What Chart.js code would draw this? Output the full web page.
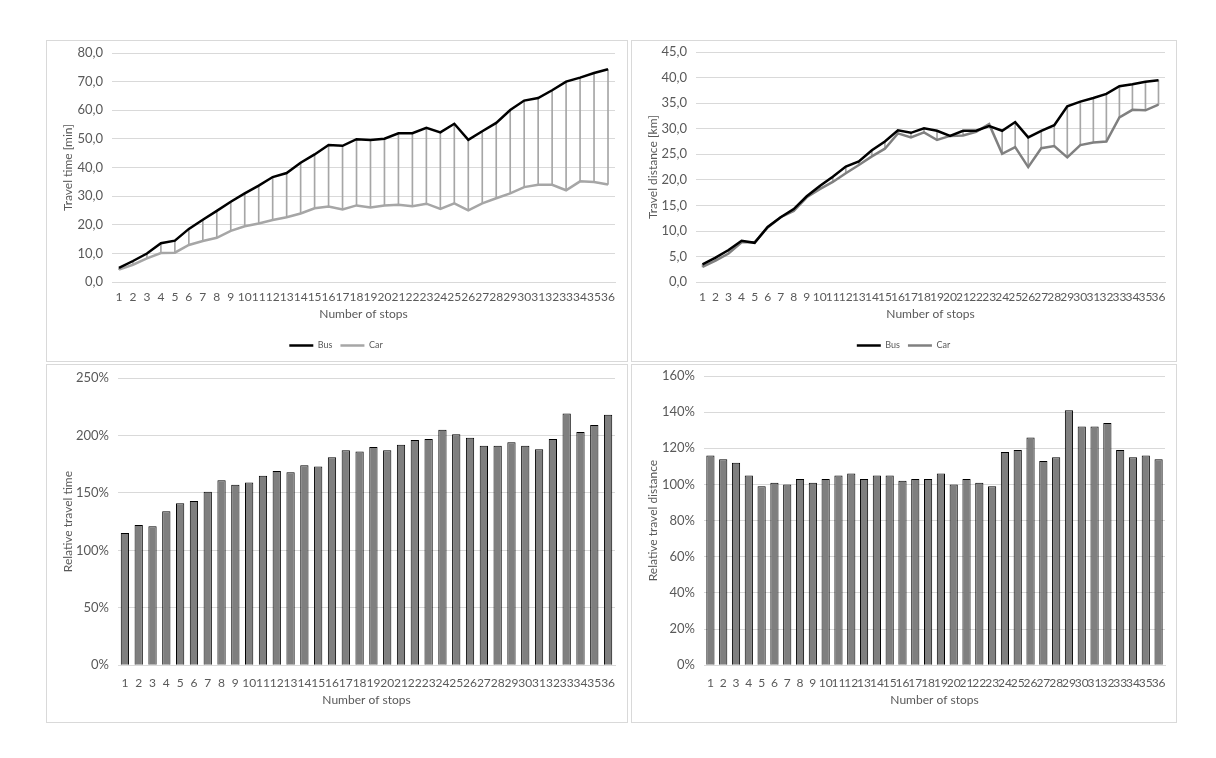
<!DOCTYPE html>
<html>
<head>
<meta charset="utf-8">
<script src="https://cdn.jsdelivr.net/npm/chart.js@4"></script>
<style>
  body { margin: 0; background: #fff; }
  .panel { position: absolute; border: 1px solid #d9d9d9; box-sizing: border-box; background: #fff; }
</style>
</head>
<body>
<div class="panel" style="left:46px;top:40px;width:582px;height:322px"><canvas id="timeChart"></canvas></div>
<div class="panel" style="left:631px;top:40px;width:546px;height:322px"><canvas id="distChart"></canvas></div>
<div class="panel" style="left:46px;top:364px;width:582px;height:359px"><canvas id="relTimeChart"></canvas></div>
<div class="panel" style="left:631px;top:364px;width:546px;height:359px"><canvas id="relDistChart"></canvas></div>
<script>
// --- Data ---
const stops = ['1','2','3','4','5','6','7','8','9','10','11','12','13','14','15','16','17','18',
  '19','20','21','22','23','24','25','26','27','28','29','30','31','32','33','34','35','36'];

const busTime = [5.0, 7.4, 10.0, 13.6, 14.5, 18.6, 21.8, 24.9, 28.1, 31.0, 33.7, 36.7, 38.1, 41.7, 44.6, 47.9, 47.6, 49.9,
  49.6, 50.1, 52.0, 52.0, 53.9, 52.3, 55.3, 49.7, 52.7, 55.6, 60.1, 63.4, 64.3, 67.0, 70.0, 71.4, 73.0, 74.3];
const carTime = [4.4, 6.1, 8.3, 10.2, 10.3, 13.0, 14.4, 15.5, 17.9, 19.5, 20.5, 21.7, 22.7, 24.0, 25.8, 26.4, 25.4, 26.8,
  26.1, 26.8, 27.0, 26.5, 27.4, 25.6, 27.5, 25.1, 27.5, 29.3, 31.0, 33.2, 34.0, 34.0, 32.1, 35.2, 35.0, 34.1];

const busDist = [3.5, 4.8, 6.3, 8.1, 7.7, 10.8, 12.7, 14.3, 16.8, 18.8, 20.6, 22.6, 23.6, 25.8, 27.5, 29.7, 29.2, 30.1,
  29.6, 28.6, 29.6, 29.6, 30.5, 29.6, 31.3, 28.3, 29.6, 30.7, 34.4, 35.3, 36.0, 36.8, 38.3, 38.7, 39.2, 39.5];
const carDist = [3.0, 4.2, 5.6, 7.8, 7.8, 10.7, 12.7, 13.9, 16.6, 18.2, 19.6, 21.3, 22.9, 24.6, 26.1, 29.1, 28.3, 29.3,
  27.8, 28.6, 28.7, 29.4, 30.9, 25.1, 26.4, 22.5, 26.2, 26.6, 24.4, 26.8, 27.3, 27.5, 32.2, 33.7, 33.6, 34.7];

const relTime = [115, 122, 121, 134, 141, 143, 151, 161, 157, 159, 165, 169, 168, 174, 173, 181, 187, 186,
  190, 187, 192, 196, 197, 205, 201, 198, 191, 191, 194, 191, 188, 197, 219, 203, 209, 218];
const relDist = [116, 114, 112, 105, 99, 101, 100, 103, 101, 103, 105, 106, 103, 105, 105, 102, 103, 103,
  106, 100, 103, 101, 99, 118, 119, 126, 113, 115, 141, 132, 132, 134, 119, 115, 116, 114];

// --- Shared style ---
const FONT = 'Lato, "Open Sans", sans-serif';
const TEXT = '#595959';
const GRID = '#d9d9d9';

function commaOne(v) { return v.toFixed(1).replace('.', ','); }
function pct(v) { return v + '%'; }

function xAxis(tickPad, titlePad) {
  return {
    offset: true,
    grid: { display: false },
    border: { color: GRID },
    ticks: { color: TEXT, font: { family: FONT, size: 12 }, autoSkip: false, maxRotation: 0, padding: tickPad },
    title: { display: true, text: 'Number of stops', color: TEXT, font: { family: FONT, size: 12 }, padding: titlePad },
  };
}

function yAxis(title, max, step, fmt, width) {
  return {
    min: 0, max: max,
    grid: { color: GRID, drawTicks: false },
    border: { display: false },
    ticks: { stepSize: step, color: TEXT, font: { family: FONT, size: 13 }, padding: 9, callback: fmt },
    title: { display: true, text: title, color: TEXT, font: { family: FONT, size: 12 }, padding: 4 },
    // fixed axis width; layout padding alone sets the plot top
    afterFit: (s) => { s.width = width; s.paddingTop = 0; s.paddingBottom = 0; },
  };
}

function lineChart(id, bus, car, carColor, yTitle, max, step, pad) {
  return new Chart(document.getElementById(id), {
    data: {
      labels: stops,
      datasets: [
        { type: 'line', label: 'Bus', data: bus, borderColor: '#000', backgroundColor: '#000',
          borderWidth: 2.5, pointRadius: 0, tension: 0, order: 1 },
        { type: 'line', label: 'Car', data: car, borderColor: carColor, backgroundColor: carColor,
          borderWidth: 2.5, pointRadius: 0, tension: 0, order: 2 },
        { type: 'bar', label: 'gap', data: bus.map((b, i) => [car[i], b]), backgroundColor: '#a6a6a6',
          barThickness: 1, order: 3 },
      ],
    },
    options: {
      responsive: true, maintainAspectRatio: false, animation: false,
      layout: { padding: pad },
      scales: { x: xAxis(0, { top: 2, bottom: 12 }), y: yAxis(yTitle, max, step, commaOne, pad.yw) },
      plugins: {
        tooltip: { enabled: false },
        legend: {
          position: 'bottom',
          labels: {
            filter: (item) => item.text !== 'gap',
            color: TEXT, font: { family: FONT, size: 9 },
            usePointStyle: true, pointStyle: 'line', pointStyleWidth: 24, padding: 8,
          },
        },
      },
    },
  });
}

function barChart(id, values, yTitle, max, step, pad, barPct) {
  return new Chart(document.getElementById(id), {
    type: 'bar',
    data: {
      labels: stops,
      datasets: [{ label: yTitle, data: values, backgroundColor: '#7f7f7f', borderColor: '#000', borderWidth: 1,
        barPercentage: barPct, categoryPercentage: 1 }],
    },
    options: {
      responsive: true, maintainAspectRatio: false, animation: false,
      layout: { padding: pad },
      scales: { x: xAxis(3, { top: -1, bottom: 0 }), y: yAxis(yTitle, max, step, pct, pad.yw) },
      plugins: { legend: { display: false }, tooltip: { enabled: false } },
    },
  });
}

lineChart('timeChart', busTime, carTime, '#a6a6a6', 'Travel time [min]', 80, 10,
  { left: 10, right: 12, top: 12, bottom: 1, yw: 55 });
lineChart('distChart', busDist, carDist, '#808080', 'Travel distance [km]', 45, 5,
  { left: 10, right: 11, top: 11, bottom: 1, yw: 54 });
barChart('relTimeChart', relTime, 'Relative travel time', 250, 50,
  { left: 10, right: 12, top: 13, bottom: 15, yw: 61 }, 0.6);
barChart('relDistChart', relDist, 'Relative travel distance', 160, 20,
  { left: 10, right: 11, top: 11, bottom: 15, yw: 62 }, 0.64);
</script>
</body>
</html>
